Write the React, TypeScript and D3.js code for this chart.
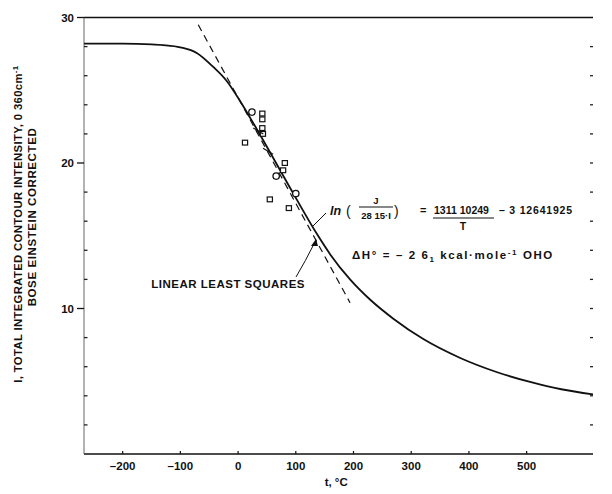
import React from 'react';
import * as d3 from 'd3';

// Main smoothed curve (t in °C, I)
const curveT = [-267, -200, -150, -130, -100, -71, -43, -19, -2, 21, 43, 90, 137, 160, 194, 229, 269, 321, 385, 449, 511, 560, 615];
const curveI = [28.2, 28.2, 28.15, 28.1, 27.95, 27.55, 26.6, 25.6, 24.6, 23.1, 21.6, 18.3, 15.1, 13.7, 12.0, 10.6, 9.3, 7.9, 6.6, 5.62, 4.9, 4.45, 4.1];

// Linear least squares (dashed)
const dashT = [-69, 194];
const dashI = [29.5, 10.4];

// Data markers
const circleT = [24, 66, 100];
const circleI = [23.5, 19.1, 17.9];
const squareT = [12, 42, 42, 42, 43, 81, 78, 55, 88];
const squareI = [21.4, 23.4, 23.0, 22.4, 22.0, 20.0, 19.5, 17.5, 16.9];
const crossT = [35, 52];
const crossI = [22.2, 20.8];

const xTicks = [-200, -100, 0, 100, 200, 300, 400, 500];
const yTicks = [10, 20, 30];
const yMinor = [2, 4, 6, 8, 12, 14, 16, 18, 22, 24, 26, 28];

const FONT = "'Liberation Sans', Arial, Helvetica, sans-serif";

export default function App() {
  const x = d3.scaleLinear().domain([-267, 615]).range([84, 593]);
  const y = d3.scaleLinear().domain([0, 30]).range([454, 17.5]);

  const line = d3
    .line<number>()
    .x((_, i) => x(curveT[i]))
    .y((d) => y(d))
    .curve(d3.curveMonotoneX);
  const curvePath = line(curveI) || '';

  const x0 = x.range()[0];
  const x1 = x.range()[1];
  const yb = y(0);
  const yt = y(30);

  return (
    <svg
      width={612}
      height={494}
      style={{ position: 'absolute', left: 0, top: 0, background: '#fff' }}
      fontFamily={FONT}
    >
      {/* frame */}
      <line x1={x0} x2={x1} y1={yt} y2={yt} stroke="#111" strokeWidth={1.4} />
      <line x1={x0} x2={x1} y1={yb} y2={yb} stroke="#111" strokeWidth={1.6} />
      <line x1={x0} x2={x0} y1={yt} y2={yb} stroke="#555" strokeWidth={0.9} />

      {/* left ticks */}
      {yMinor.map((v) => (
        <line key={'lm' + v} x1={x0} x2={x0 + 3.5} y1={y(v)} y2={y(v)} stroke="#222" strokeWidth={1.3} />
      ))}
      {yTicks.map((v) => (
        <g key={'yt' + v}>
          <line x1={x0 - 7} x2={x0} y1={y(v)} y2={y(v)} stroke="#111" strokeWidth={1.3} />
          <text x={x0 - 10} y={y(v) + 4} textAnchor="end" fontSize={11.5} fontWeight="bold" fill="#111">
            {v}
          </text>
        </g>
      ))}
      {/* right ticks */}
      {yMinor.concat([10, 20]).map((v) => (
        <line key={'rm' + v} x1={x1 - 3} x2={x1} y1={y(v)} y2={y(v)} stroke="#222" strokeWidth={1.3} />
      ))}

      {/* x ticks */}
      {xTicks.map((v) => (
        <g key={'xt' + v}>
          <line x1={x(v)} x2={x(v)} y1={yb} y2={yb - 3} stroke="#111" strokeWidth={1.2} />
          <text x={x(v)} y={yb + 16} textAnchor="middle" fontSize={11.5} fontWeight="bold" fill="#111">
            {v < 0 ? '\u2013' + Math.abs(v) : v}
          </text>
        </g>
      ))}
      <text x={x(170)} y={486} textAnchor="middle" fontSize={11.5} fontWeight="bold" fill="#111">
        t, °C
      </text>

      {/* y-axis title */}
      <text
        transform={`translate(22, 224) rotate(-90)`}
        textAnchor="middle"
        fontSize={11.3}
        fontWeight="bold"
        fill="#111"
        letterSpacing={0.35}
      >
        I, TOTAL INTEGRATED CONTOUR INTENSITY, 0 360cm
        <tspan dy={-4} fontSize={8}>-1</tspan>
      </text>
      <text
        transform={`translate(36, 217) rotate(-90)`}
        textAnchor="middle"
        fontSize={11.5}
        fontWeight="bold"
        fill="#111"
        letterSpacing={0.6}
      >
        BOSE EINSTEIN CORRECTED
      </text>

      {/* dashed least squares line */}
      <line
        x1={x(dashT[0])}
        y1={y(dashI[0])}
        x2={x(dashT[1])}
        y2={y(dashI[1])}
        stroke="#111"
        strokeWidth={1.2}
        strokeDasharray="7,5"
      />

      {/* main curve */}
      <path d={curvePath} fill="none" stroke="#111" strokeWidth={1.8} />

      {/* markers */}
      {circleT.map((t, i) => (
        <circle key={'c' + i} cx={x(t)} cy={y(circleI[i])} r={3.2} fill="#fff" stroke="#111" strokeWidth={1.3} />
      ))}
      {squareT.map((t, i) => (
        <rect
          key={'s' + i}
          x={x(t) - 2.6}
          y={y(squareI[i]) - 2.4}
          width={5.2}
          height={4.8}
          fill="#fff"
          stroke="#111"
          strokeWidth={1.2}
        />
      ))}
      {crossT.map((t, i) => (
        <line
          key={'x' + i}
          x1={x(t) - 5}
          y1={y(crossI[i]) - 3}
          x2={x(t) + 5}
          y2={y(crossI[i]) + 3}
          stroke="#111"
          strokeWidth={1.2}
        />
      ))}

      {/* equation annotation */}
      <line x1={326} y1={213} x2={313} y2={226} stroke="#111" strokeWidth={1} />
      <text x={330} y={215} fontSize={12.5} fontWeight="bold" fontStyle="italic" fill="#111">
        ln
      </text>
      <text x={346} y={216} fontSize={14} fill="#111">
        (
      </text>
      <text x={376} y={204} textAnchor="middle" fontSize={9.5} fontWeight="bold" fill="#111">
        J
      </text>
      <line x1={359} x2={393} y1={207} y2={207} stroke="#111" strokeWidth={1} />
      <text x={376} y={219} textAnchor="middle" fontSize={9.5} fontWeight="bold" fill="#111">
        28 15·I
      </text>
      <text x={394} y={216} fontSize={14} fill="#111">
        )
      </text>
      <text x={420} y={214} fontSize={11} fontWeight="bold" fill="#111">
        =
      </text>
      <text x={434} y={214} fontSize={10.5} fontWeight="bold" fill="#111">
        1311 10249
      </text>
      <line x1={433} x2={494} y1={218} y2={218} stroke="#111" strokeWidth={1} />
      <text x={463} y={230} textAnchor="middle" fontSize={10.5} fontWeight="bold" fill="#111">
        T
      </text>
      <text x={499} y={214} fontSize={10.5} fontWeight="bold" fill="#111" letterSpacing={0.8}>
        – 3 12641925
      </text>

      <text x={352} y={259} fontSize={11.5} fontWeight="bold" fill="#111" letterSpacing={1.6}>
        ΔH° = – 2 6<tspan dy={3} fontSize={8}>1</tspan>
        <tspan dy={-3}> kcal·mole</tspan>
        <tspan dy={-4} fontSize={8}>-1</tspan>
        <tspan dy={4}> OHO</tspan>
      </text>

      {/* linear least squares label */}
      <path d="M 296 277 Q 305 262 315 242" fill="none" stroke="#111" strokeWidth={1} />
      <path d="M 316 239 L 311 246 L 318 246 Z" fill="#111" />
      <text x={305} y={288} textAnchor="end" fontSize={11.5} fontWeight="bold" fill="#111" letterSpacing={0.5}>
        LINEAR LEAST SQUARES
      </text>
    </svg>
  );
}
